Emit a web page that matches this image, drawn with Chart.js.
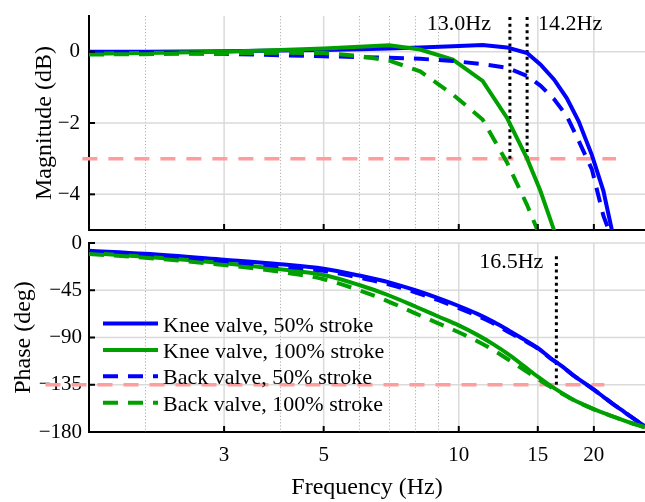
<!DOCTYPE html>
<html>
<head>
<meta charset="utf-8">
<script src="https://cdn.jsdelivr.net/npm/chart.js@4/dist/chart.umd.min.js"></script>
<style>
  html, body { margin: 0; padding: 0; background: #fff; }
  #wrap { position: relative; width: 645px; height: 502px; }
  #mag { position: absolute; left: 0; top: 0; }
  #phase { position: absolute; left: 0; top: 232px; }
</style>
</head>
<body>
<div id="wrap">
  <canvas id="mag" width="645" height="240"></canvas>
  <canvas id="phase" width="645" height="270"></canvas>
</div>
<script>
// ---- Frequency response data ----
const seriesLabels = [
  'Knee valve, 50% stroke',
  'Knee valve, 100% stroke',
  'Back valve, 50% stroke',
  'Back valve, 100% stroke'
];

// Magnitude (dB)
const magFreq      = [1.5, 2, 3, 4, 5, 6, 7, 8.2, 9.7, 11.3, 12.8, 14.2, 15.2, 16.3, 17.4, 18.5, 19.8, 21, 22.2];
const knee50Mag    = [0.0, 0.0, 0.01, 0.03, 0.05, 0.07, 0.09, 0.12, 0.15, 0.19, 0.12, -0.04, -0.36, -0.78, -1.3, -1.95, -2.9, -3.9, -5.3];
const knee100Mag   = [-0.06, -0.04, 0.0, 0.05, 0.09, 0.14, 0.18, 0.06, -0.22, -0.82, -1.85, -3.0, -3.9, -5.0, -6.2, null, null, null, null];
const back50Mag    = [-0.01, -0.03, -0.06, -0.1, -0.13, -0.15, -0.17, -0.2, -0.26, -0.35, -0.45, -0.68, -0.95, -1.33, -1.8, -2.5, -3.3, -4.6, -5.4];
const back100Mag   = [-0.08, -0.07, -0.05, -0.03, -0.04, -0.12, -0.25, -0.55, -1.2, -1.9, -3.1, -4.3, -5.2, null, null, null, null, null, null];

// Phase (deg)
const phaseFreq    = [1.5, 2, 3, 4, 5, 6, 7, 8, 9, 10, 11, 12, 13, 14, 15, 16, 17, 18, 19, 20, 21, 22, 23, 24, 25, 26];
const knee50Phase  = [-7.3, -10.2, -15.9, -20.2, -24.5, -31, -37.5, -45, -52.5, -60, -67.5, -75.5, -84, -92, -100, -109.5, -117.5, -126, -133, -139.7, -146.5, -153, -158.8, -164.5, -169.7, -174.5];
const knee100Phase = [-9.5, -13, -19.2, -24.9, -30.5, -40, -50, -60.5, -70, -78.5, -87.5, -97, -107, -117.5, -127.3, -135.9, -143, -149.2, -154, -158.3, -161.7, -165, -168, -170.8, -173.3, -175.5];
const back50Phase  = [-8.5, -11.5, -17.5, -22, -26.5, -33, -39.5, -47, -54.5, -62, -69.5, -77, -85.5, -93, -100.5, -109.8, -117.7, -126, -133, -139.7, -146.5, -153, -158.8, -164.5, -169.7, -174.5];
const back100Phase = [-10.5, -14, -21, -27.5, -34.5, -45, -56, -67, -76.5, -85, -93.5, -102.5, -112, -121, -129.5, -137, -143.5, -149.4, -154.2, -158.4, -161.8, -165.1, -168, -170.8, -173.3, -175.5];

// Axes
const freqRange    = [1.5, 26];
const xMajorTicks  = [3, 5, 10, 15, 20];
const xMinorTicks  = [2, 4, 6, 7, 8, 9];
const magRange     = [-5, 1];
const magTicks     = [-4, -2, 0];
const phaseRange   = [-180, 0];
const phaseTicks   = [-180, -135, -90, -45, 0];

// Reference levels and bandwidth markers
const magRefLevel   = -3;
const magRefSpan    = [1.45, 22.4];
const phaseRefLevel = -135;
const phaseRefSpan  = [1.2, 21.1];
const magMarkers    = [13.0, 14.2];
const phaseMarkers  = [16.5];
const phaseMarkerTop = -10;

// ---- Styling ----
const BLUE = '#0000ff';
const GREEN = '#00a000';
const REF_RED = '#ff9c9c';
const SERIF = '"Liberation Serif", "Times New Roman", serif';
Chart.defaults.font.family = SERIF;
Chart.defaults.color = '#000';
Chart.defaults.animation = false;

const toPoints = (xs, ys) => xs.map((x, i) => ({ x, y: ys[i] })).filter(p => p.y !== null && p.y !== undefined);
const minusLabel = v => (v < 0 ? '\u2212' + Math.abs(v) : String(v));

function curve(label, xs, ys, color, dashed, order, smooth) {
  return {
    label, legendEntry: true,
    data: toPoints(xs, ys),
    borderColor: color, backgroundColor: color,
    borderWidth: 4, borderDash: dashed ? [15, 10] : [],
    pointRadius: 0, fill: false, order,
    tension: 0, cubicInterpolationMode: smooth ? 'monotone' : 'default'
  };
}
function refLine(level, span) {
  return {
    data: [{ x: span[0], y: level }, { x: span[1], y: level }],
    borderColor: REF_RED, borderWidth: 3.5, borderDash: [15, 11],
    pointRadius: 0, fill: false, clip: false, order: 6
  };
}
function markerLine(freq, lo, hi) {
  return {
    data: [{ x: freq, y: lo }, { x: freq, y: hi }],
    borderColor: '#000', borderWidth: 3, borderDash: [3, 3.6], borderCapStyle: 'butt',
    pointRadius: 0, fill: false, order: 5
  };
}

function xAxis(withLabels) {
  return {
    type: 'logarithmic', min: freqRange[0], max: freqRange[1],
    afterBuildTicks: s => { s.ticks = xMajorTicks.map(v => ({ value: v })); },
    afterFit: s => { s.height = withLabels ? 70 : 10; s.paddingLeft = 0; s.paddingRight = 0; },
    grid: { drawOnChartArea: false, drawTicks: false },
    border: { display: true, color: '#000', width: 2 },
    ticks: { display: withLabels, autoSkip: false, maxRotation: 0, padding: 11, font: { size: 21 }, callback: v => String(v) },
    title: { display: withLabels, text: 'Frequency (Hz)', font: { size: 24 }, padding: { top: 0, bottom: 0 } }
  };
}
function yAxis(range, ticks, title, titlePad, tickPad) {
  return {
    type: 'linear', min: range[0], max: range[1],
    afterBuildTicks: s => { s.ticks = ticks.map(v => ({ value: v })); },
    afterFit: s => { s.width = 89; s.paddingTop = 0; s.paddingBottom = 0; },
    grid: { drawOnChartArea: false, drawTicks: false },
    border: { display: true, color: '#000', width: 2 },
    ticks: { autoSkip: false, padding: tickPad, font: { size: 21 }, callback: v => minusLabel(v) },
    title: { display: true, text: title, font: { size: 24 }, padding: { top: titlePad, bottom: 0 } }
  };
}

// Grid lines, inward tick marks, marker captions and the in-plot legend
const bodeDecor = {
  id: 'bodeDecor',
  beforeDatasetsDraw(chart) {
    const { ctx, chartArea: a, scales: { x, y } } = chart;
    ctx.save();
    ctx.beginPath();
    ctx.rect(a.left, a.top - 2, a.right - a.left + 2, a.bottom - a.top + 4);
    ctx.clip();
    ctx.setLineDash([1.2, 2]);
    ctx.strokeStyle = '#b0b0b0';
    ctx.lineWidth = 1;
    xMinorTicks.forEach(v => {
      const px = Math.round(x.getPixelForValue(v)) + 0.5;
      ctx.beginPath(); ctx.moveTo(px, a.top); ctx.lineTo(px, a.bottom); ctx.stroke();
    });
    ctx.setLineDash([]);
    ctx.strokeStyle = '#dadada';
    ctx.lineWidth = 1.5;
    xMajorTicks.forEach(v => {
      const px = x.getPixelForValue(v);
      ctx.beginPath(); ctx.moveTo(px, a.top); ctx.lineTo(px, a.bottom); ctx.stroke();
    });
    y.ticks.forEach(t => {
      if (t.value <= y.min) return;
      const py = y.getPixelForValue(t.value);
      ctx.beginPath(); ctx.moveTo(a.left + 1, py); ctx.lineTo(a.right, py); ctx.stroke();
    });
    ctx.restore();
  },
  afterDatasetsDraw(chart, args, opts) {
    const { ctx, chartArea: a, scales: { x, y } } = chart;
    ctx.save();
    // inward tick marks
    ctx.strokeStyle = '#000';
    ctx.lineWidth = 2;
    xMajorTicks.forEach(v => {
      const px = x.getPixelForValue(v);
      ctx.beginPath(); ctx.moveTo(px, a.bottom); ctx.lineTo(px, a.bottom - 6); ctx.stroke();
    });
    y.ticks.forEach(t => {
      const py = y.getPixelForValue(t.value);
      ctx.beginPath(); ctx.moveTo(a.left, py); ctx.lineTo(a.left + 6, py); ctx.stroke();
    });
    // marker captions
    ctx.fillStyle = '#000';
    ctx.font = '22px ' + SERIF;
    ctx.textBaseline = 'alphabetic';
    const m = opts.markers;
    if (m) {
      m.values.forEach((v, i) => {
        const px = x.getPixelForValue(v);
        const left = m.sides[i] === 'left';
        ctx.textAlign = left ? 'right' : 'left';
        ctx.fillText(v.toFixed(1) + 'Hz', left ? px - m.gaps[i] : px + m.gaps[i], m.baseline);
      });
    }
    // legend
    const lg = opts.legend;
    if (lg) {
      const entries = chart.data.datasets.filter(ds => ds.legendEntry);
      entries.forEach((ds, i) => {
        const cy = lg.top + i * lg.step;
        ctx.strokeStyle = ds.borderColor;
        ctx.lineWidth = ds.borderWidth;
        ctx.lineCap = 'butt';
        ctx.setLineDash(ds.borderDash || []);
        ctx.beginPath(); ctx.moveTo(lg.left, cy); ctx.lineTo(lg.left + lg.sample, cy); ctx.stroke();
        ctx.setLineDash([]);
        ctx.textAlign = 'left';
        ctx.fillStyle = '#000';
        ctx.fillText(ds.label, lg.left + lg.sample + lg.gap, cy + 8);
      });
    }
    ctx.restore();
  }
};

// ---- Magnitude plot ----
new Chart(document.getElementById('mag'), {
  type: 'line',
  data: {
    datasets: [
      curve(seriesLabels[0], magFreq, knee50Mag, BLUE, false, 4, false),
      curve(seriesLabels[1], magFreq, knee100Mag, GREEN, false, 3, false),
      curve(seriesLabels[2], magFreq, back50Mag, BLUE, true, 2, false),
      curve(seriesLabels[3], magFreq, back100Mag, GREEN, true, 1, false),
      refLine(magRefLevel, magRefSpan),
      ...magMarkers.map(f => markerLine(f, magRefLevel, magRange[1]))
    ]
  },
  options: {
    responsive: false,
    devicePixelRatio: 1,
    layout: { padding: { top: 16, right: 0, bottom: 0, left: 0 } },
    scales: {
      x: xAxis(false),
      y: yAxis(magRange, magTicks, 'Magnitude (dB)', 30, 9)
    },
    plugins: {
      legend: { display: false },
      tooltip: { enabled: false },
      bodeDecor: { markers: { values: magMarkers, sides: ['left', 'right'], gaps: [19, 11], baseline: 30 } }
    }
  },
  plugins: [bodeDecor]
});

// ---- Phase plot ----
new Chart(document.getElementById('phase'), {
  type: 'line',
  data: {
    datasets: [
      curve(seriesLabels[0], phaseFreq, knee50Phase, BLUE, false, 4, true),
      curve(seriesLabels[1], phaseFreq, knee100Phase, GREEN, false, 3, true),
      curve(seriesLabels[2], phaseFreq, back50Phase, BLUE, true, 2, true),
      curve(seriesLabels[3], phaseFreq, back100Phase, GREEN, true, 1, true),
      refLine(phaseRefLevel, phaseRefSpan),
      ...phaseMarkers.map(f => markerLine(f, phaseRefLevel, phaseMarkerTop))
    ]
  },
  options: {
    responsive: false,
    devicePixelRatio: 1,
    layout: { padding: { top: 11, right: 0, bottom: 0, left: 0 } },
    scales: {
      x: xAxis(true),
      y: yAxis(phaseRange, phaseTicks, 'Phase (deg)', 9, 7)
    },
    plugins: {
      legend: { display: false },
      tooltip: { enabled: false },
      bodeDecor: {
        markers: { values: phaseMarkers, sides: ['left'], gaps: [13], baseline: 36 },
        legend: { left: 103, sample: 55, gap: 5, top: 91.5, step: 26.4 }
      }
    }
  },
  plugins: [bodeDecor]
});
</script>
</body>
</html>
